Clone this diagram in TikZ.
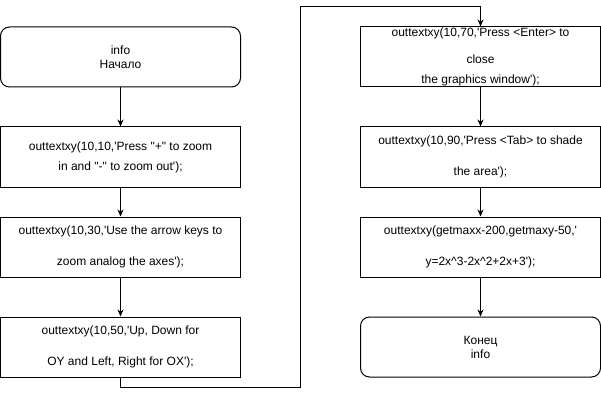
\documentclass[tikz,border=0pt]{standalone}
\usepackage{fontspec}
\setmainfont{Liberation Sans}[Ligatures=TeXOff]
\usetikzlibrary{arrows.meta}

\tikzset{
  blk/.style={draw, line width=1pt, minimum width=240pt, minimum height=60pt,
    inner sep=0pt, align=center, font=\fontsize{12}{14}\selectfont},
  term/.style={blk, rounded corners=9pt}
}

\begin{document}
\begin{tikzpicture}[x=1pt, y=-1pt, >={Stealth[length=7pt,width=6pt]}, line width=1pt]
\useasboundingbox (0,0) rectangle (601,406);

% left column
\node[term] (st) at (120.5,57) {info\\Начало};
\node[blk] (b1) at (120.5,157) {outtextxy(10,10,'Press "+" to zoom\\[6pt]in and "-" to zoom out');};
\node[blk] (b2) at (120.5,247) {outtextxy(10,30,'Use the arrow keys to\\[17pt]zoom analog the axes');};
\node[blk] (b3) at (120.5,347) {outtextxy(10,50,'Up, Down for\\[17pt]OY and Left, Right for OX');};

% right column
\node[blk] (r1) at (480.5,57) {outtextxy(10,70,'Press <Enter> to\\[13pt]close\\[6pt]the graphics window');};
\node[blk] (r2) at (480.5,157) {outtextxy(10,90,'Press <Tab> to shade\\[17pt]the area');};
\node[blk] (r3) at (480.5,247) {outtextxy(getmaxx-200,getmaxy-50,'\\[17pt]y=2x\textasciicircum3-2x\textasciicircum2+2x+3');};
\node[term] (en) at (480.5,347) {Конец\\info};

\foreach \a/\b in {st/b1,b1/b2,b2/b3,r1/r2,r2/r3,r3/en}
{
   \draw [->](\a)--(\b);
}

\coordinate (low) at (300.5,387);
\coordinate (high) at (300.5,7);
\draw [->](b3.south)|-(low)--(high)-|(r1.north);
\end{tikzpicture}
\end{document}
